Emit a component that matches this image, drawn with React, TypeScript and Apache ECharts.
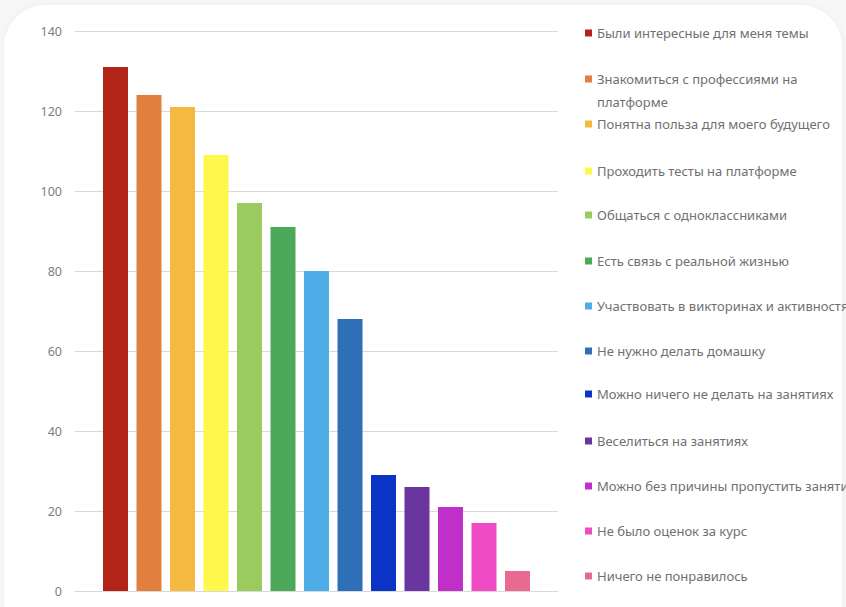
import React, { useEffect, useRef } from "react";
import * as echarts from "echarts";

const categories: string[] = [
  "Были интересные для меня темы",
  "Знакомиться с профессиями на платформе",
  "Понятна польза для моего будущего",
  "Проходить тесты на платформе",
  "Общаться с одноклассниками",
  "Есть связь с реальной жизнью",
  "Участвовать в викторинах и активностях",
  "Не нужно делать домашку",
  "Можно ничего не делать на занятиях",
  "Веселиться на занятиях",
  "Можно без причины пропустить занятие",
  "Не было оценок за курс",
  "Ничего не понравилось",
];

const values: number[] = [131, 124, 121, 109, 97, 91, 80, 68, 29, 26, 21, 17, 5];

const colors: string[] = [
  "#B22418",
  "#E07F3E",
  "#F5B942",
  "#FEF84A",
  "#9BCB5E",
  "#4DA95A",
  "#4EACE6",
  "#2E6FB7",
  "#0A34C5",
  "#6B35A0",
  "#C030C8",
  "#EE4BC5",
  "#E86A93",
];

const yTicks = { min: 0, max: 140, interval: 20 };

// layout: vertical centre (px) of each legend row
const legendRowY = [33, 79, 124, 171, 215, 261, 306, 351, 394, 441, 486, 531, 576];

export default function App() {
  const ref = useRef<HTMLDivElement>(null);

  useEffect(() => {
    if (!ref.current) return;
    const chart = echarts.init(ref.current, undefined, { renderer: "svg" });
    const font = "Noto Sans";
    const LH = 23;

    const legends = categories.map((name, i) => {
      const twoLine = i === 1;
      const h = twoLine ? LH * 3 : LH;
      return {
        data: [name],
        orient: "vertical",
        left: 585,
        top: legendRowY[i] - h / 2,
        padding: 0,
        icon: "rect",
        itemWidth: 7,
        itemHeight: 7,
        formatter: twoLine
          ? () => "\nЗнакомиться с профессиями на\nплатформе"
          : "{name}",
        textStyle: {
          fontFamily: font,
          fontSize: 13,
          color: "#707070",
          lineHeight: LH,
        },
      };
    });

    const series = categories.map((name, i) => ({
      type: "bar",
      name,
      data: [values[i]],
      barWidth: 25,
      barGap: "34%",
      itemStyle: { color: colors[i] },
    }));

    chart.setOption({
      animation: false,
      backgroundColor: "#f7f7f7",
      graphic: [
        {
          type: "rect",
          z: -10,
          shape: { x: 4, y: 5, width: 838, height: 640, r: 42 },
          style: {
            fill: "#ffffff",
            shadowBlur: 8,
            shadowColor: "rgba(0,0,0,0.04)",
          },
        },
      ],
      grid: { left: 75, right: 288, top: 31, bottom: 16 },
      xAxis: {
        type: "category",
        data: [""],
        axisLine: { show: true, lineStyle: { color: "#d9d9d9", width: 1 } },
        axisTick: { show: false },
        axisLabel: { show: false },
      },
      yAxis: {
        type: "value",
        min: yTicks.min,
        max: yTicks.max,
        interval: yTicks.interval,
        axisLine: { show: false },
        axisTick: { show: false },
        splitLine: { lineStyle: { color: "#d9d9d9", width: 1 } },
        axisLabel: {
          color: "#808080",
          fontFamily: font,
          fontSize: 12.5,
          margin: 13,
        },
      },
      legend: legends,
      series,
    });

    return () => chart.dispose();
  }, []);

  return (
    <div
      ref={ref}
      style={{ position: "absolute", left: 0, top: 0, width: 846, height: 607 }}
    />
  );
}
